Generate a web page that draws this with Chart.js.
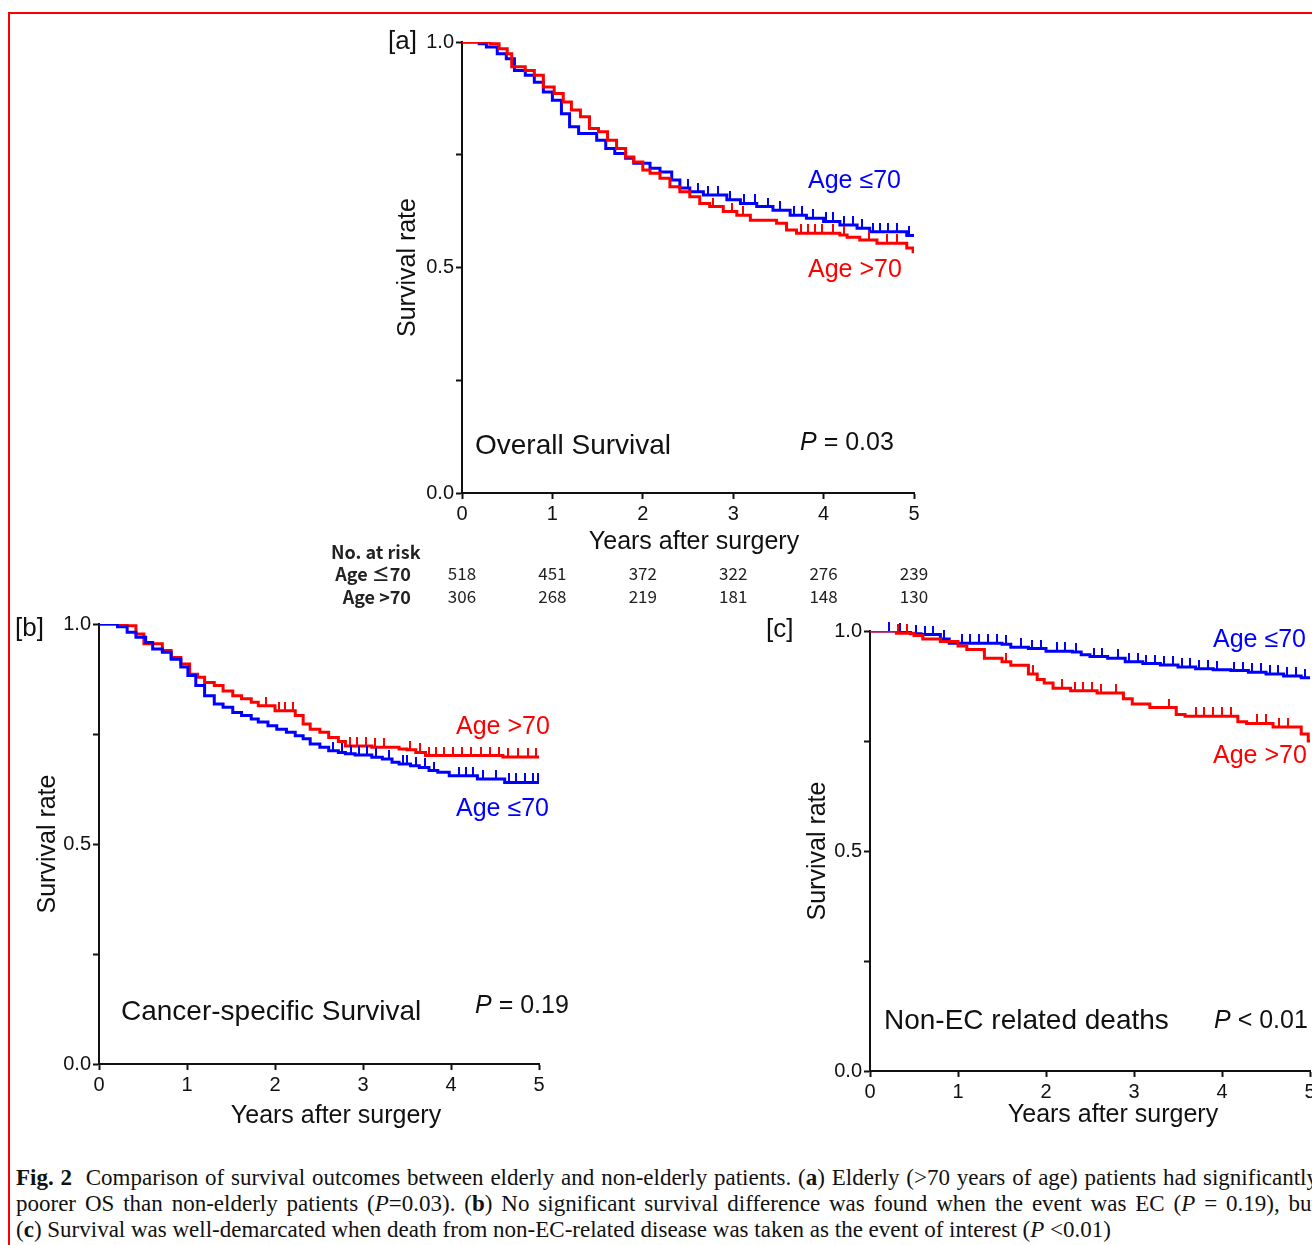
<!DOCTYPE html>
<html>
<head>
<meta charset="utf-8">
<script src="https://cdn.jsdelivr.net/npm/chart.js@4.4.1/dist/chart.umd.min.js"></script>
<style>
  body { margin: 0; width: 1312px; height: 1245px; overflow: hidden; background: #fff; position: relative; font-family: "Liberation Sans", Arial, sans-serif; color: #111; }
  #frame { position: absolute; left: 8px; top: 12px; width: 1400px; height: 1400px; border: 2px solid #ff0000; box-sizing: border-box; }
  canvas { position: absolute; }
  .lbl { position: absolute; white-space: nowrap; line-height: 1; }
  .mid { transform: translateX(-50%); }
  .blue { color: #0000ff; }
  .red { color: #ff0000; }
  .risk { position: absolute; font-family: "Noto Sans CJK JP", "Noto Sans", sans-serif; font-size: 17px; line-height: 1; white-space: nowrap; color: #222; }
  #caption { position: absolute; left: 16px; top: 1165px; width: 1302px; font-family: "Liberation Serif", "Times New Roman", serif; font-size: 23px; line-height: 26px; color: #111; }
  #caption .j { text-align: justify; text-align-last: justify; white-space: nowrap; }
</style>
</head>
<body>
<div id="frame"></div>

<canvas id="chartA" width="560" height="570" style="left:380px;top:20px"></canvas>
<canvas id="chartB" width="560" height="535" style="left:20px;top:605px"></canvas>
<canvas id="chartC" width="560" height="530" style="left:790px;top:610px"></canvas>

<!-- panel a -->
<div class="lbl" style="left:388px;top:27px;font-size:26px">[a]</div>
<div class="lbl blue" style="left:808px;top:167px;font-size:25px">Age ≤70</div>
<div class="lbl red" style="left:808px;top:256px;font-size:25px">Age &gt;70</div>
<div class="lbl" style="left:475px;top:431px;font-size:28px">Overall Survival</div>
<div class="lbl" style="left:800px;top:429px;font-size:25px"><i>P</i> = 0.03</div>
<div class="lbl mid" style="left:694px;top:528px;font-size:25px">Years after surgery</div>

<!-- number at risk -->
<div class="risk" style="left:331px;top:542px;font-weight:bold;font-size:18px">No. at risk</div>
<div class="risk" style="left:411px;top:564px;font-weight:bold;font-size:18px;transform:translateX(-100%)">Age ≤70</div>
<div class="risk" style="left:411px;top:587px;font-weight:bold;font-size:18px;transform:translateX(-100%)">Age &gt;70</div>
<div id="riskRows"></div>

<!-- panel b -->
<div class="lbl" style="left:15px;top:614px;font-size:26px">[b]</div>
<div class="lbl red" style="left:456px;top:713px;font-size:25px">Age &gt;70</div>
<div class="lbl blue" style="left:456px;top:795px;font-size:25px">Age ≤70</div>
<div class="lbl" style="left:121px;top:997px;font-size:28px">Cancer-specific Survival</div>
<div class="lbl" style="left:475px;top:992px;font-size:25px"><i>P</i> = 0.19</div>
<div class="lbl mid" style="left:336px;top:1102px;font-size:25px">Years after surgery</div>

<!-- panel c -->
<div class="lbl" style="left:766px;top:615px;font-size:26px">[c]</div>
<div class="lbl blue" style="left:1213px;top:626px;font-size:25px">Age ≤70</div>
<div class="lbl red" style="left:1213px;top:742px;font-size:25px">Age &gt;70</div>
<div class="lbl" style="left:884px;top:1006px;font-size:28px">Non-EC related deaths</div>
<div class="lbl" style="left:1214px;top:1007px;font-size:25px"><i>P</i> &lt; 0.01</div>
<div class="lbl mid" style="left:1113px;top:1101px;font-size:25px">Years after surgery</div>

<div id="caption">
  <div class="j"><b>Fig. 2</b>&nbsp; Comparison of survival outcomes between elderly and non-elderly patients. (<b>a</b>) Elderly (&gt;70 years of age) patients had significantly</div>
  <div class="j">poorer OS than non-elderly patients (<i>P</i>=0.03). (<b>b</b>) No significant survival difference was found when the event was EC (<i>P</i> = 0.19), but</div>
  <div>(<b>c</b>) Survival was well-demarcated when death from non-EC-related disease was taken as the event of interest (<i>P</i> &lt;0.01)</div>
</div>

<script>
// overall survival
const osYoungT = [0, 0.19, 0.27, 0.39, 0.49, 0.58, 0.70, 0.80, 0.90, 1.00, 1.10, 1.19, 1.29, 1.49, 1.59, 1.69, 1.81, 1.90, 2.08, 2.19, 2.32, 2.41, 2.52, 2.67, 2.93, 3.08, 3.26, 3.44, 3.63, 3.81, 4.00, 4.18, 4.37, 4.51, 4.92, 5];
const osYoungS = [1, 0.996, 0.989, 0.974, 0.963, 0.937, 0.926, 0.911, 0.889, 0.871, 0.841, 0.812, 0.797, 0.782, 0.764, 0.753, 0.742, 0.731, 0.720, 0.712, 0.694, 0.676, 0.668, 0.661, 0.650, 0.642, 0.635, 0.627, 0.616, 0.609, 0.602, 0.594, 0.587, 0.579, 0.571, 0.571];
const osYoungCens = [2.5, 2.61, 2.72, 2.83, 2.96, 3.12, 3.24, 3.38, 3.52, 3.67, 3.76, 3.88, 4.03, 4.1, 4.23, 4.32, 4.42, 4.55, 4.62, 4.71, 4.81, 4.95];
const osOldT = [0, 0.31, 0.41, 0.50, 0.55, 0.70, 0.80, 0.90, 1.02, 1.12, 1.21, 1.31, 1.41, 1.51, 1.61, 1.71, 1.81, 1.90, 2.00, 2.08, 2.19, 2.30, 2.41, 2.52, 2.63, 2.74, 2.89, 3.04, 3.19, 3.48, 3.59, 3.70, 4.18, 4.26, 4.40, 4.59, 4.92, 4.99, 5];
const osOldS = [1, 0.996, 0.985, 0.974, 0.945, 0.937, 0.926, 0.900, 0.886, 0.867, 0.849, 0.834, 0.808, 0.801, 0.782, 0.764, 0.745, 0.734, 0.716, 0.709, 0.698, 0.679, 0.668, 0.657, 0.642, 0.635, 0.624, 0.616, 0.605, 0.598, 0.583, 0.576, 0.572, 0.567, 0.561, 0.554, 0.543, 0.535, 0.535];
const osOldCens = [2.78, 2.99, 3.11, 3.75, 3.83, 3.9, 3.98, 4.1, 4.23, 4.5, 4.7, 4.81];

// cancer-specific survival
const cssYoungT = [0, 0.21, 0.32, 0.42, 0.53, 0.61, 0.72, 0.82, 0.93, 1.01, 1.10, 1.20, 1.31, 1.41, 1.52, 1.62, 1.73, 1.81, 1.92, 2.02, 2.13, 2.23, 2.32, 2.40, 2.51, 2.61, 2.72, 2.80, 2.91, 3.10, 3.22, 3.33, 3.41, 3.54, 3.64, 3.75, 3.85, 3.98, 4.30, 4.61, 5];
const cssYoungS = [1, 0.994, 0.981, 0.970, 0.958, 0.943, 0.936, 0.920, 0.902, 0.883, 0.860, 0.837, 0.818, 0.811, 0.799, 0.792, 0.784, 0.777, 0.769, 0.761, 0.754, 0.746, 0.739, 0.727, 0.720, 0.712, 0.708, 0.705, 0.702, 0.697, 0.693, 0.686, 0.682, 0.678, 0.674, 0.667, 0.663, 0.655, 0.648, 0.640, 0.640];
const cssYoungCens = [2.66, 2.76, 2.86, 2.95, 3.05, 3.15, 3.29, 3.45, 3.5, 3.6, 3.71, 3.81, 4.09, 4.17, 4.25, 4.36, 4.51, 4.66, 4.74, 4.84, 4.93, 4.99];
const cssOldT = [0, 0.32, 0.42, 0.51, 0.72, 0.82, 0.93, 1.03, 1.12, 1.20, 1.31, 1.41, 1.52, 1.62, 1.73, 1.81, 2.00, 2.23, 2.32, 2.40, 2.51, 2.61, 2.72, 2.80, 3.10, 3.41, 3.50, 3.60, 3.71, 4.59, 5];
const cssOldS = [1, 0.996, 0.977, 0.955, 0.940, 0.924, 0.909, 0.886, 0.879, 0.867, 0.860, 0.848, 0.837, 0.830, 0.822, 0.814, 0.803, 0.792, 0.773, 0.761, 0.754, 0.742, 0.733, 0.723, 0.720, 0.716, 0.714, 0.708, 0.701, 0.698, 0.698];
const cssOldCens = [1.9, 2.05, 2.11, 2.21, 2.85, 2.93, 3.03, 3.14, 3.24, 3.53, 3.65, 3.75, 3.83, 3.92, 4.02, 4.13, 4.23, 4.34, 4.44, 4.55, 4.65, 4.76, 4.87, 4.97];

// non-EC related deaths
const ncYoungT = [0, 0.30, 0.46, 0.58, 0.80, 0.90, 1.50, 1.60, 1.80, 2.00, 2.30, 2.40, 2.50, 2.70, 2.90, 3.10, 3.30, 3.50, 3.70, 3.90, 4.10, 4.30, 4.50, 4.70, 4.90, 5];
const ncYoungS = [1, 0.998, 0.994, 0.992, 0.982, 0.972, 0.970, 0.963, 0.960, 0.954, 0.952, 0.946, 0.942, 0.938, 0.930, 0.926, 0.923, 0.918, 0.914, 0.912, 0.910, 0.906, 0.902, 0.898, 0.894, 0.892];
const ncYoungCens = [0.22, 0.34, 0.52, 0.63, 0.72, 0.84, 1.04, 1.14, 1.24, 1.34, 1.44, 1.54, 1.72, 1.84, 1.94, 2.12, 2.22, 2.34, 2.54, 2.64, 2.82, 2.94, 3.04, 3.14, 3.24, 3.34, 3.44, 3.54, 3.64, 3.74, 3.84, 3.94, 4.14, 4.24, 4.34, 4.44, 4.54, 4.64, 4.74, 4.84, 4.94];
const ncOldT = [0, 0.30, 0.50, 0.60, 0.80, 1.00, 1.10, 1.30, 1.50, 1.60, 1.80, 1.90, 1.98, 2.08, 2.28, 2.58, 2.88, 2.98, 3.18, 3.48, 3.58, 4.18, 4.28, 4.58, 4.90, 4.98, 5];
const ncOldS = [1, 0.995, 0.990, 0.982, 0.976, 0.966, 0.958, 0.938, 0.930, 0.922, 0.902, 0.890, 0.882, 0.870, 0.864, 0.859, 0.846, 0.834, 0.826, 0.810, 0.806, 0.794, 0.790, 0.782, 0.766, 0.750, 0.750];
const ncOldCens = [0.32, 0.42, 1.55, 1.85, 2.18, 2.33, 2.42, 2.52, 2.62, 2.8, 3.4, 3.7, 3.8, 3.9, 4.0, 4.1, 4.4, 4.5, 4.65, 4.75];

// number at risk
const riskYears = [0, 1, 2, 3, 4, 5];
const riskYoung = [518, 451, 372, 322, 276, 239];
const riskOld = [306, 268, 219, 181, 148, 130];

const blue = "#0000ff";
const red = "#ff0000";
const ink = "#111";

Chart.defaults.font.family = '"Liberation Sans", Arial, sans-serif';
Chart.defaults.color = ink;

function survAt(times, surv, t) {
  let v = surv[0];
  for (let i = 0; i < times.length; i++) {
    if (times[i] <= t) v = surv[i];
  }
  return v;
}

// little upward tick used as the censor mark
function tickMark(color) {
  const c = document.createElement("canvas");
  c.width = 2;
  c.height = 18;
  const g = c.getContext("2d");
  g.fillStyle = color;
  g.fillRect(0, 0, 2, 9);
  return c;
}

function groupSets(times, surv, cens, color) {
  return [
    {
      data: times.map((t, i) => ({ x: t, y: surv[i] })),
      borderColor: color,
      borderWidth: 3,
      stepped: "before",
      pointRadius: 0,
      fill: false,
    },
    {
      data: cens.map((t) => ({ x: t, y: survAt(times, surv, t) })),
      showLine: false,
      pointStyle: tickMark(color),
      pointRadius: 3,
      clip: false,
    },
  ];
}

function panel(id, yWidth, xHeight, padTop, padRight, datasets) {
  return new Chart(document.getElementById(id), {
    type: "line",
    data: { datasets: datasets },
    options: {
      responsive: false,
      animation: false,
      layout: { padding: { top: padTop, right: padRight, left: 0, bottom: 0 } },
      plugins: { legend: { display: false }, tooltip: { enabled: false } },
      scales: {
        x: {
          type: "linear",
          min: 0,
          max: 5,
          ticks: { stepSize: 1, font: { size: 20 }, padding: 3, maxRotation: 0 },
          grid: { drawOnChartArea: false, tickLength: 6, tickColor: ink, tickWidth: 2 },
          border: { color: ink, width: 2 },
          afterFit: (s) => {
            s.height = xHeight;
            s.paddingLeft = 0;
            s.paddingRight = 0;
          },
        },
        y: {
          min: 0,
          max: 1,
          ticks: {
            stepSize: 0.25,
            font: { size: 20 },
            padding: 2,
            callback: (v) => (v % 0.5 === 0 ? v.toFixed(1) : ""),
          },
          grid: { drawOnChartArea: false, tickLength: 6, tickColor: ink, tickWidth: 2 },
          border: { color: ink, width: 2 },
          title: { display: true, text: "Survival rate", font: { size: 25 }, padding: { top: 13, bottom: 0 } },
          afterFit: (s) => {
            s.width = yWidth;
            s.paddingTop = 0;
            s.paddingBottom = 0;
          },
        },
      },
    },
  });
}

const chartA = panel("chartA", 82, 97, 22, 26,
  groupSets(osOldT, osOldS, osOldCens, red).concat(groupSets(osYoungT, osYoungS, osYoungCens, blue)));
const chartB = panel("chartB", 79, 76, 19, 41,
  groupSets(cssYoungT, cssYoungS, cssYoungCens, blue).concat(groupSets(cssOldT, cssOldS, cssOldCens, red)));
const chartC = panel("chartC", 80, 69, 21, 40,
  groupSets(ncOldT, ncOldS, ncOldCens, red).concat(groupSets(ncYoungT, ncYoungS, ncYoungCens, blue)));

// at-risk numbers sit under panel a's year ticks
const rows = document.getElementById("riskRows");
const xs = chartA.scales.x;
riskYears.forEach((yr, i) => {
  const left = 380 + xs.getPixelForValue(yr);
  [[riskYoung[i], 564], [riskOld[i], 587]].forEach(([n, top]) => {
    const d = document.createElement("div");
    d.className = "risk";
    d.style.left = left + "px";
    d.style.top = top + "px";
    d.style.transform = "translateX(-50%)";
    d.textContent = n;
    rows.appendChild(d);
  });
});
</script>
</body>
</html>
